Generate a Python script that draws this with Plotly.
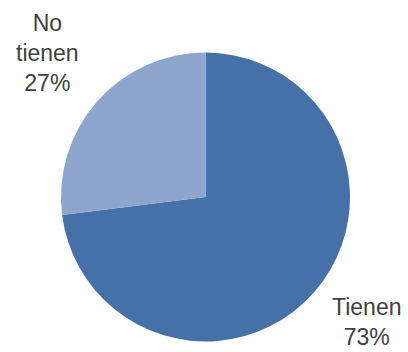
import plotly.graph_objects as go

labels = ["Tienen", "No tienen"]
label_lines = ["Tienen", "No<br>tienen"]
values = [73, 27]
colors = ["#4671A8", "#8EA6CE"]

fig = go.Figure(go.Pie(
    labels=labels,
    values=values,
    sort=False,
    direction="clockwise",
    rotation=0,
    marker=dict(colors=colors, line=dict(width=0)),
    textinfo="none",
    hoverinfo="label+percent",
    showlegend=False,
    domain=dict(x=[61/408, 350/408], y=[10/352, 300/352]),
))

total = sum(values)
pos = [(366/408, 1-322/352), (47/408, 1-53/352)]
for txt, v, (x, y) in zip(label_lines, values, pos):
    fig.add_annotation(
        x=x, y=y, xref="paper", yref="paper",
        text=f"{txt}<br>{round(100*v/total)}%",
        showarrow=False, xanchor="center", yanchor="middle",
        font=dict(family="Liberation Sans, Arial", size=23, color="#404040"),
    )

fig.update_layout(
    width=408, height=352,
    margin=dict(l=0, r=0, t=0, b=0),
    paper_bgcolor="white", plot_bgcolor="white",
)
fig.write_html("out.html")
